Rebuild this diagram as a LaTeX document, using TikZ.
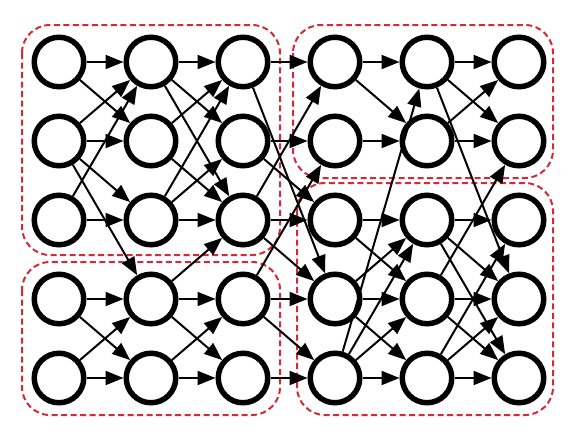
\documentclass[tikz,border=0pt]{standalone}
\usetikzlibrary{arrows.meta,positioning}
\definecolor{groupred}{RGB}{214,40,57}

\begin{document}
\begin{tikzpicture}[->,>={Triangle[length=18pt,width=14pt]},line width=2pt,node distance=79pt,x=1pt,y=1pt]
	\tikzstyle{unit}=[circle,draw=black,line width=5.5pt,minimum size=49.5pt,inner sep=0pt]
	\tikzstyle{group}=[-,draw=groupred,line width=2pt,dash pattern=on 6pt off 3.5pt,rounded corners=28pt]

	\useasboundingbox (0,0) rectangle (576,-440);

	\draw[group] (22,-25) rectangle (280,-255);
	\draw[group] (22,-262) rectangle (280,-415);
	\draw[group] (293,-25) rectangle (553,-178);
	\draw[group] (297,-183) rectangle (553,-415);

	\node[unit] (a1) at (59,-62) {};
	\node[unit] (a2) [below of = a1] {};
	\node[unit] (a3) [below of = a2] {};
	\node[unit] (a4) [below of = a3] {};
	\node[unit] (a5) [below of = a4] {};

	\node[unit] (b1) [right of = a1, node distance=92pt] {};
	\node[unit] (b2) [below of = b1] {};
	\node[unit] (b3) [below of = b2] {};
	\node[unit] (b4) [below of = b3] {};
	\node[unit] (b5) [below of = b4] {};

	\node[unit] (c1) [right of = b1, node distance=92pt] {};
	\node[unit] (c2) [below of = c1] {};
	\node[unit] (c3) [below of = c2] {};
	\node[unit] (c4) [below of = c3] {};
	\node[unit] (c5) [below of = c4] {};

	\node[unit] (d1) [right of = c1, node distance=92pt] {};
	\node[unit] (d2) [below of = d1] {};
	\node[unit] (d3) [below of = d2] {};
	\node[unit] (d4) [below of = d3] {};
	\node[unit] (d5) [below of = d4] {};

	\node[unit] (e1) [right of = d1, node distance=92pt] {};
	\node[unit] (e2) [below of = e1] {};
	\node[unit] (e3) [below of = e2] {};
	\node[unit] (e4) [below of = e3] {};
	\node[unit] (e5) [below of = e4] {};

	\node[unit] (f1) [right of = e1, node distance=92pt] {};
	\node[unit] (f2) [below of = f1] {};
	\node[unit] (f3) [below of = f2] {};
	\node[unit] (f4) [below of = f3] {};
	\node[unit] (f5) [below of = f4] {};

	\path (a1) edge (b1) edge (b2);
	\path (a2) edge (b1) edge (b2) edge (b3) edge (b4);
	\path (a3) edge (b1) edge (b3);
	\path (a4) edge (b4) edge (b5);
	\path (a5) edge (b4) edge (b5);

	\path (b1) edge (c1) edge (c2) edge (c3);
	\path (b2) edge (c1) edge (c3);
	\path (b3) edge (c1) edge (c2) edge (c3);
	\path (b4) edge (c3) edge (c4) edge (c5);
	\path (b5) edge (c4) edge (c5);

	\path (c1) edge (d1) edge (d4);
	\path (c2) edge (d2) edge (d3);
	\path (c3) edge (d1) edge (d3) edge (d4);
	\path (c4) edge (d2) edge (d4) edge (d5);
	\path (c5) edge (d5);

	\path (d1) edge (e1) edge (e2);
	\path (d2) edge (e2);
	\path (d3) edge (e3) edge (e4);
	\path (d4) edge (e3) edge (e4) edge (e5);
	\path (d5) edge (e1) edge (e3) edge (e4) edge (e5);

	\path (e1) edge (f1) edge (f2) edge (f4);
	\path (e2) edge (f1) edge (f2);
	\path (e3) edge (f3) edge (f4) edge (f5);
	\path (e4) edge (f2) edge (f4) edge (f5);
	\path (e5) edge (f3) edge (f4) edge (f5);
\end{tikzpicture}
\end{document}
